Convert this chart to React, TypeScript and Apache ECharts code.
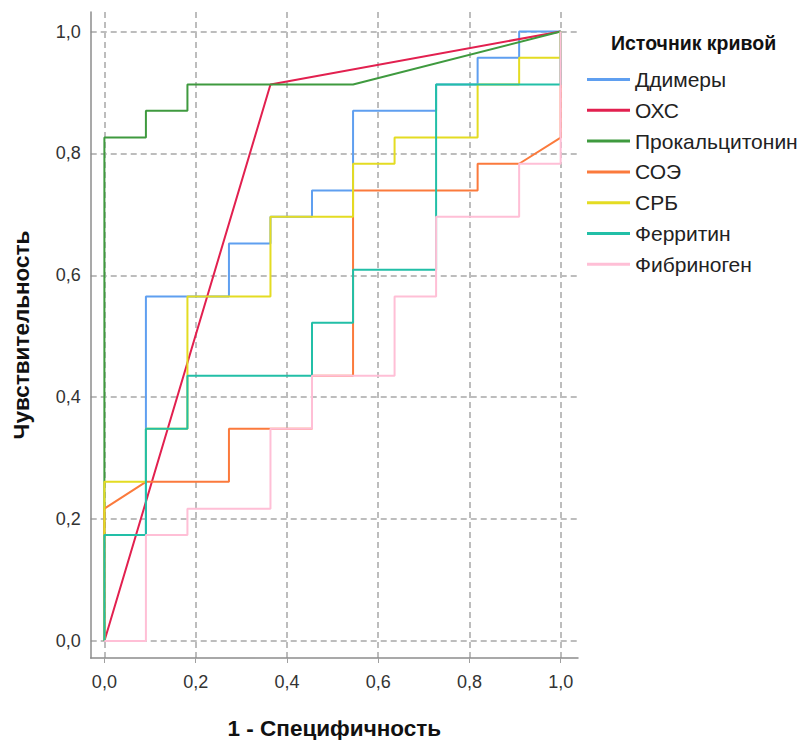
import React, { useEffect, useRef } from "react";
import * as echarts from "echarts";

const seriesNames = ["Ддимеры", "ОХС", "Прокальцитонин", "СОЭ", "СРБ", "Ферритин", "Фибриноген"];
const seriesColors = ["#5f9ff0", "#e2204f", "#3f9a3f", "#fb7a3c", "#e4dc22", "#22bfa7", "#ffbfd6"];

const ddimers = [[0, 0], [0, 0.174], [0.091, 0.174], [0.091, 0.565], [0.273, 0.565], [0.273, 0.652], [0.364, 0.652], [0.364, 0.696], [0.455, 0.696], [0.455, 0.739], [0.545, 0.739], [0.545, 0.87], [0.727, 0.87], [0.727, 0.913], [0.818, 0.913], [0.818, 0.957], [0.909, 0.957], [0.909, 1], [1, 1]];
const ohs = [[0, 0], [0.364, 0.913], [1, 1]];
const procalcitonin = [[0, 0], [0, 0.826], [0.091, 0.826], [0.091, 0.87], [0.182, 0.87], [0.182, 0.913], [0.545, 0.913], [1, 1]];
const soe = [[0, 0], [0, 0.217], [0.091, 0.261], [0.273, 0.261], [0.273, 0.348], [0.455, 0.348], [0.455, 0.435], [0.545, 0.435], [0.545, 0.739], [0.818, 0.739], [0.818, 0.783], [0.909, 0.783], [1, 0.826], [1, 1]];
const srb = [[0, 0], [0, 0.261], [0.091, 0.261], [0.091, 0.348], [0.182, 0.348], [0.182, 0.565], [0.364, 0.565], [0.364, 0.696], [0.545, 0.696], [0.545, 0.783], [0.636, 0.783], [0.636, 0.826], [0.818, 0.826], [0.818, 0.913], [0.909, 0.913], [0.909, 0.957], [1, 0.957], [1, 1]];
const ferritin = [[0, 0], [0, 0.174], [0.091, 0.174], [0.091, 0.348], [0.182, 0.348], [0.182, 0.435], [0.455, 0.435], [0.455, 0.522], [0.545, 0.522], [0.545, 0.609], [0.727, 0.609], [0.727, 0.913], [1, 0.913], [1, 1]];
const fibrinogen = [[0, 0], [0.091, 0], [0.091, 0.174], [0.182, 0.174], [0.182, 0.217], [0.364, 0.217], [0.364, 0.348], [0.455, 0.348], [0.455, 0.435], [0.636, 0.435], [0.636, 0.565], [0.727, 0.565], [0.727, 0.696], [0.909, 0.696], [0.909, 0.783], [1, 0.783], [1, 1]];

const seriesData = [ddimers, ohs, procalcitonin, soe, srb, ferritin, fibrinogen];
const tickValues = [0, 0.2, 0.4, 0.6, 0.8, 1.0];

const FONT = "'Liberation Sans', Arial, sans-serif";
const fmt = (v: number) => v.toFixed(1).replace(".", ",");

export default function App() {
  const ref = useRef<HTMLDivElement>(null);
  useEffect(() => {
    const chart = echarts.init(ref.current!, null, { renderer: "svg" });
    const gridLine = { show: true, lineStyle: { color: "#bdbdbd", width: 2, type: [6, 4] as any } };
    chart.setOption({
      animation: false,
      backgroundColor: "#ffffff",
      textStyle: { fontFamily: FONT },
      title: {
        text: "Источник кривой",
        left: 611,
        top: 33,
        padding: 0,
        textStyle: { fontFamily: FONT, fontSize: 19.5, fontWeight: "bold", color: "#111" },
      },
      legend: {
        orient: "vertical",
        left: 587,
        top: 69,
        padding: 0,
        icon: "rect",
        itemWidth: 43,
        itemHeight: 3,
        itemGap: 9.8,
        data: seriesNames,
        textStyle: { fontFamily: FONT, fontSize: 21, color: "#222", lineHeight: 20 },
      },
      grid: { left: 90.7, right: 230, top: 12, bottom: 82, containLabel: false, outerBoundsMode: "none" },
      xAxis: {
        type: "value",
        min: -0.03,
        max: 1.038,
        name: "1 - Специфичность",
        nameLocation: "middle",
        nameGap: 59,
        nameTextStyle: { fontFamily: FONT, fontSize: 22.5, fontWeight: "bold", color: "#111" },
        axisLine: { show: true, onZero: false, lineStyle: { color: "#8c8c8c", width: 1.5 } },
        axisTick: { show: true, length: 5, customValues: tickValues, lineStyle: { color: "#a0a0a0" } },
        axisLabel: { customValues: tickValues, formatter: fmt, fontSize: 18, color: "#333", margin: 15, fontFamily: FONT },
        splitLine: gridLine,
      },
      yAxis: {
        type: "value",
        min: -0.028,
        max: 1.032,
        name: "Чувствительность",
        nameLocation: "middle",
        nameGap: 58,
        nameTextStyle: { fontFamily: FONT, fontSize: 22.5, fontWeight: "bold", color: "#111" },
        axisLine: { show: true, onZero: false, lineStyle: { color: "#8c8c8c", width: 1.5 } },
        axisTick: { show: false, customValues: tickValues },
        axisLabel: { customValues: tickValues, formatter: fmt, fontSize: 18, color: "#333", margin: 10, fontFamily: FONT, padding: [8, 0, 0, 0] },
        splitLine: gridLine,
      },
      series: seriesNames.map((name, i) => ({
        name,
        type: "line",
        data: seriesData[i],
        symbol: "none",
        color: seriesColors[i],
        lineStyle: { color: seriesColors[i], width: 2 },
        z: 2 + i,
      })),
    });
    return () => chart.dispose();
  }, []);
  return <div ref={ref} style={{ position: "fixed", left: 0, top: 0, width: 808, height: 740 }} />;
}
